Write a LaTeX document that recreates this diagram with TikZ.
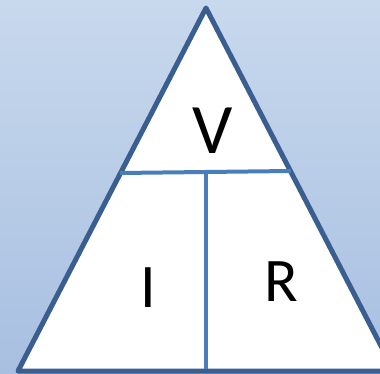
\documentclass[tikz,border=0pt]{standalone}
\usepackage{fontspec}
\setmainfont{Carlito}
\usetikzlibrary{positioning}
\definecolor{bgtop}{RGB}{200,217,237}
\definecolor{bgbottom}{RGB}{168,191,225}
\definecolor{edgeblue}{RGB}{58,94,143}
\definecolor{splitblue}{RGB}{74,126,187}
\begin{document}
\begin{tikzpicture}[
    x=1pt, y=-1pt,
    outline/.style={draw=edgeblue, line width=5pt, line join=round, fill=white},
    divider/.style={draw=splitblue, line width=4pt},
    letter/.style={font=\fontsize{62}{62}\selectfont, text=black, inner sep=0pt},
    bigletter/.style={letter, font=\fontsize{71}{71}\selectfont}
  ]
    \useasboundingbox (0,0) rectangle (380,374);
    \clip (0,0) rectangle (380,374);
    \shade[top color=bgtop, bottom color=bgbottom] (0,0) rectangle (380,374);

    % triangle corners
    \coordinate (apex) at (206,8);
    \coordinate (left) at (18,371);
    \coordinate (right) at (394,371);
    \draw[outline] (apex) -- (left) -- (right) -- cycle;

    % dividing lines
    \coordinate (midl) at (120,173);
    \coordinate (midr) at (291,171);
    \coordinate (midc) at (206,172);
    \coordinate (base) at (206,369);
    \draw[divider] (midl) -- (midr);
    \draw[divider] (midc) -- (base);

    \node[bigletter] (volt) at (213,131) {V};
    \node[letter] (amp) at (148,288) {I};
    \node[letter] (ohm) at (281,282) {R};
  \end{tikzpicture}
\end{document}
